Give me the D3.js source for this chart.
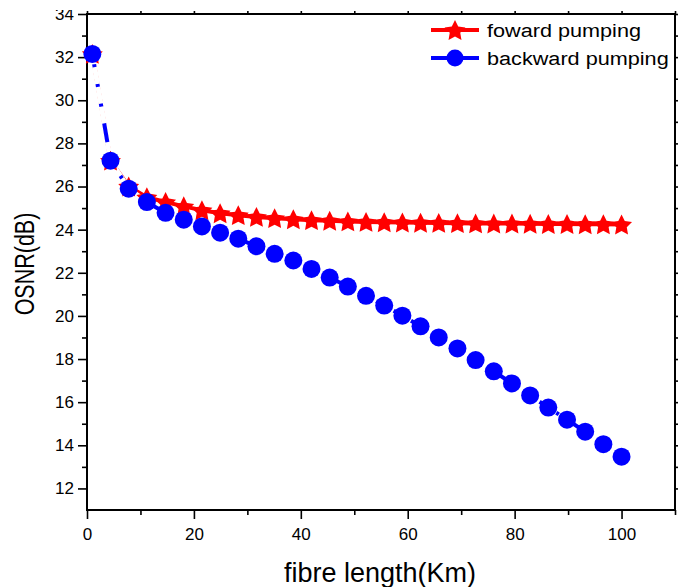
<!DOCTYPE html>
<html>
<head>
<meta charset="utf-8">
<script src="https://cdn.jsdelivr.net/npm/d3@7"></script>
<style>
  body { margin: 0; background: white; }
  svg { display: block; font-family: "Liberation Sans", Arial, sans-serif; }
</style>
</head>
<body>
<svg id="chart" width="689" height="587"></svg>
<script>
// fibre length (Km)
var lengths = [1, 4.4, 7.8, 11.2, 14.7, 18.1, 21.5, 24.9, 28.3, 31.7,
               35.1, 38.6, 42, 45.4, 48.8, 52.2, 55.6, 59, 62.4, 65.8,
               69.3, 72.7, 76.1, 79.5, 82.9, 86.3, 89.8, 93.2, 96.6, 100]

// OSNR (dB)
var forwardOsnr = [32.15, 27.2, 26.0, 25.5, 25.28, 25.08, 24.9, 24.76, 24.67, 24.59,
                   24.53, 24.48, 24.44, 24.41, 24.38, 24.36, 24.34, 24.33, 24.32, 24.31,
                   24.3, 24.29, 24.28, 24.28, 24.27, 24.26, 24.26, 24.25, 24.25, 24.24]
var backwardOsnr = [32.15, 27.2, 25.9, 25.28, 24.78, 24.46, 24.15, 23.86, 23.58, 23.23,
                    22.88, 22.57, 22.18, 21.78, 21.36, 20.93, 20.48, 20.01, 19.52, 19.0,
                    18.49, 17.95, 17.43, 16.87, 16.31, 15.75, 15.19, 14.63, 14.05, 13.47]

var seriesNames = ["foward pumping", "backward pumping"]

var xTicks = [0, 20, 40, 60, 80, 100]
var xMinor = [10, 30, 50, 70, 90, 110]
var yTicks = [12, 14, 16, 18, 20, 22, 24, 26, 28, 30, 32, 34]
var yMinor = [13, 15, 17, 19, 21, 23, 25, 27, 29, 31, 33]

var svg = d3.select("#chart")
var dims = {
    width: 689,
    height: 587,
    margin: { top: 14, right: 14, bottom: 77, left: 87 }
}
var plotW = dims.width - dims.margin.left - dims.margin.right
var plotH = dims.height - dims.margin.top - dims.margin.bottom

var xScale = d3.scaleLinear().domain([0, 110]).range([0, plotW])
var yScale = d3.scaleLinear().domain([11, 34]).range([plotH, 0])

var g = svg.append("g")
    .attr("transform", `translate(${dims.margin.left},${dims.margin.top})`)

function styleAxis(sel, fontSize) {
    sel.select(".domain").remove()
    sel.selectAll("line").attr("stroke", "black").attr("stroke-width", 1.6)
    sel.selectAll("text").attr("font-size", fontSize).attr("fill", "black")
        .attr("font-family", "Liberation Sans, Arial, sans-serif")
}

// bottom axis
g.append("g").attr("transform", `translate(0,${plotH})`)
    .call(d3.axisBottom(xScale).tickValues(xMinor).tickSize(5).tickFormat(""))
    .call(s => styleAxis(s, 17))
g.append("g").attr("transform", `translate(0,${plotH})`)
    .call(d3.axisBottom(xScale).tickValues(xTicks).tickSize(9).tickPadding(9).tickFormat(d3.format("d")))
    .call(s => styleAxis(s, 17))

// left axis
g.append("g")
    .call(d3.axisLeft(yScale).tickValues(yMinor).tickSize(5).tickFormat(""))
    .call(s => styleAxis(s, 17))
g.append("g")
    .call(d3.axisLeft(yScale).tickValues(yTicks).tickSize(9).tickPadding(4).tickFormat(d3.format("d")))
    .call(s => styleAxis(s, 17))

// top + right axes, ticks only
g.append("g")
    .call(d3.axisTop(xScale).tickValues(xTicks.concat(xMinor)).tickSize(3).tickFormat(""))
    .call(s => styleAxis(s, 17))
g.append("g").attr("transform", `translate(${plotW},0)`)
    .call(d3.axisRight(yScale).tickValues(yTicks.concat(yMinor)).tickSize(3).tickFormat(""))
    .call(s => styleAxis(s, 17))

// frame
g.append("rect")
    .attr("width", plotW).attr("height", plotH)
    .attr("fill", "none").attr("stroke", "black").attr("stroke-width", 2)

// the top label is cut off in the original
svg.append("rect").attr("x", 0).attr("y", 0).attr("width", 84).attr("height", 10).attr("fill", "white")

var forwardData = lengths.map((x, i) => ({ x: x, y: forwardOsnr[i] }))
var backwardData = lengths.map((x, i) => ({ x: x, y: backwardOsnr[i] }))

var line = d3.line().x(d => xScale(d.x)).y(d => yScale(d.y))

// a fatter five point star than d3.symbolStar
var fatStar = {
    draw: function(context, size) {
        var r = Math.sqrt(size), ri = r * 0.5
        for (var k = 0; k < 10; k++) {
            var a = -Math.PI / 2 + k * Math.PI / 5
            var rr = k % 2 ? ri : r
            if (k === 0) context.moveTo(rr * Math.cos(a), rr * Math.sin(a))
            else context.lineTo(rr * Math.cos(a), rr * Math.sin(a))
        }
        context.closePath()
    }
}
var star = d3.symbol().type(fatStar).size(121)

// forward pumping line
g.append("path").datum(forwardData)
    .attr("d", line)
    .attr("fill", "none").attr("stroke", "red").attr("stroke-width", 4)

// backward line gaps show white over the red line
g.append("path").datum(backwardData)
    .attr("d", line)
    .attr("fill", "none").attr("stroke", "white").attr("stroke-width", 5)

g.append("g").selectAll("path")
    .data(forwardData)
    .enter()
    .append("path")
    .attr("d", star)
    .attr("transform", d => `translate(${xScale(d.x)},${yScale(d.y) + 1})`)
    .attr("fill", "red")

// backward pumping, dash dot dot dot
g.append("path").datum(backwardData)
    .attr("d", line)
    .attr("fill", "none").attr("stroke", "blue").attr("stroke-width", 4)
    .attr("stroke-dasharray", "19,17,3,17,3,17,3,17")
    .attr("stroke-dashoffset", 25.5)
g.append("g").selectAll("circle")
    .data(backwardData)
    .enter()
    .append("circle")
    .attr("cx", d => xScale(d.x))
    .attr("cy", d => yScale(d.y))
    .attr("r", 9)
    .attr("fill", "blue")

// legend
var legend = svg.append("g")
var legendColors = ["red", "blue"]
seriesNames.forEach((name, i) => {
    var y = 30 + i * 28
    var row = legend.append("g")
    if (i === 0) {
        row.append("line").attr("x1", 431).attr("x2", 479).attr("y1", y).attr("y2", y)
            .attr("stroke", legendColors[i]).attr("stroke-width", 4)
        row.append("path").attr("d", star).attr("transform", `translate(455,${y + 1})`)
            .attr("fill", legendColors[i])
    } else {
        row.append("line").attr("x1", 431).attr("x2", 479).attr("y1", y).attr("y2", y)
            .attr("stroke", legendColors[i]).attr("stroke-width", 4)
            .attr("stroke-dasharray", "16,16")
        row.append("circle").attr("cx", 455).attr("cy", y).attr("r", 8.5)
            .attr("fill", legendColors[i])
    }
    row.append("text")
        .attr("transform", `translate(487,${y + 7}) scale(1.14,1)`)
        .attr("font-size", 19)
        .text(name)
})

// axis titles
svg.append("text")
    .attr("text-anchor", "middle")
    .attr("x", 380)
    .attr("y", 582)
    .attr("font-size", 27)
    .text("fibre length(Km)")

svg.append("text")
    .attr("text-anchor", "middle")
    .attr("transform", "translate(34,264) scale(1.3,1) rotate(-90)")
    .attr("font-size", 21.5)
    .text("OSNR(dB)")
</script>
</body>
</html>
